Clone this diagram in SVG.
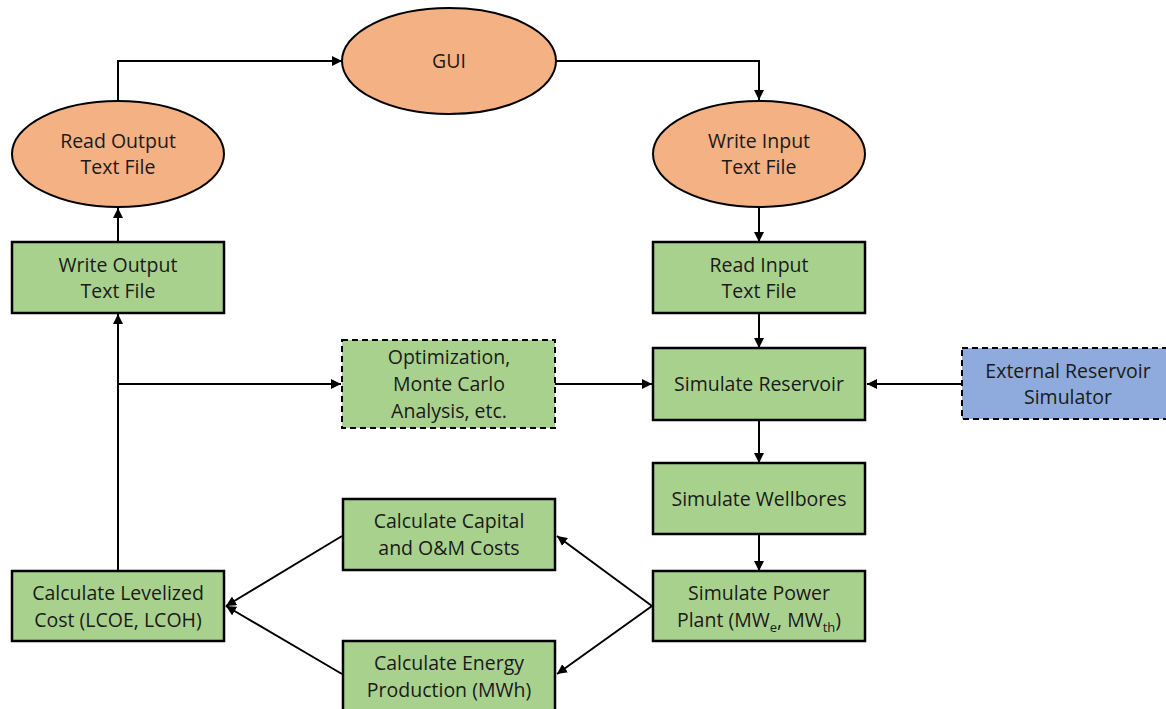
<svg xmlns="http://www.w3.org/2000/svg" width="1166" height="709" viewBox="0 0 1166 709">
<defs>
<marker id="arr" viewBox="0 0 10 10" refX="10" refY="5" markerWidth="10" markerHeight="10" markerUnits="userSpaceOnUse" orient="auto">
<path d="M0,0 L10,5 L0,10 Z" fill="#000"/>
</marker>
<style>
.oval{fill:#F4B183;stroke:#000;stroke-width:2}
.box{fill:#A9D18E;stroke:#000;stroke-width:2.5}
.dash{fill:#A9D18E;stroke:#000;stroke-width:2;stroke-dasharray:6,4}
.ext{fill:#8FAADC;stroke:#000;stroke-width:2;stroke-dasharray:6,4}
.t{font-family:"Open Sans","Liberation Sans",sans-serif;font-size:19.5px;fill:#1a1a1a;text-anchor:middle}
.c{fill:none;stroke:#000;stroke-width:2;marker-end:url(#arr)}
</style>
</defs>
<rect width="1166" height="709" fill="#fff"/>
<g id="connectors">
<path class="c" d="M118,101 V61 H342"/>
<path class="c" d="M556,61 H759 V100"/>
<path class="c" d="M759,207 V242"/>
<path class="c" d="M759,313 V348"/>
<path class="c" d="M555,384 H652"/>
<path class="c" d="M962,384 H867"/>
<path class="c" d="M759,420 V463"/>
<path class="c" d="M759,534 V571"/>
<path class="c" d="M652,606 L557,536"/>
<path class="c" d="M652,606 L557,674"/>
<path class="c" d="M342,536 L226,606"/>
<path class="c" d="M342,674 L226,606"/>
<path class="c" d="M118,571 V314"/>
<path class="c" d="M118,384 H341"/>
<path class="c" d="M118,242 V208"/>
</g>
<g id="gui"><ellipse class="oval" cx="449" cy="61" rx="107" ry="53"/><text class="t" x="449" y="68">GUI</text></g>
<g id="read-output"><ellipse class="oval" cx="118" cy="154" rx="106" ry="53"/><text class="t" x="118" y="148">Read Output</text><text class="t" x="118" y="174">Text File</text></g>
<g id="write-input"><ellipse class="oval" cx="759" cy="154" rx="106" ry="53"/><text class="t" x="759" y="148">Write Input</text><text class="t" x="759" y="174">Text File</text></g>
<g id="write-output"><rect class="box" x="12" y="242" width="212" height="71"/><text class="t" x="118" y="272">Write Output</text><text class="t" x="118" y="298">Text File</text></g>
<g id="read-input"><rect class="box" x="653" y="242" width="212" height="71"/><text class="t" x="759" y="272">Read Input</text><text class="t" x="759" y="298">Text File</text></g>
<g id="optimization"><rect class="dash" x="342" y="340" width="213" height="88"/><text class="t" x="449" y="364">Optimization,</text><text class="t" x="449" y="391">Monte Carlo</text><text class="t" x="449" y="418">Analysis, etc.</text></g>
<g id="sim-reservoir"><rect class="box" x="653" y="348" width="212" height="72"/><text class="t" x="759" y="391">Simulate Reservoir</text></g>
<g id="external"><rect class="ext" x="962" y="348" width="213" height="71"/><text class="t" x="1068" y="378">External Reservoir</text><text class="t" x="1068" y="404">Simulator</text></g>
<g id="sim-wellbores"><rect class="box" x="653" y="463" width="212" height="71"/><text class="t" x="759" y="506">Simulate Wellbores</text></g>
<g id="sim-power"><rect class="box" x="653" y="571" width="212" height="70"/><text class="t" x="759" y="600">Simulate Power</text><text class="t" x="759" y="627">Plant (MW<tspan font-size="13" dy="5">e</tspan><tspan dy="-5">, MW</tspan><tspan font-size="13" dy="5">th</tspan><tspan dy="-5">)</tspan></text></g>
<g id="capital"><rect class="box" x="343" y="499" width="212" height="71"/><text class="t" x="449" y="528">Calculate Capital</text><text class="t" x="449" y="555">and O&amp;M Costs</text></g>
<g id="energy"><rect class="box" x="343" y="641" width="212" height="71"/><text class="t" x="449" y="670">Calculate Energy</text><text class="t" x="449" y="697">Production (MWh)</text></g>
<g id="levelized"><rect class="box" x="12" y="571" width="212" height="70"/><text class="t" x="118" y="600">Calculate Levelized</text><text class="t" x="118" y="627">Cost (LCOE, LCOH)</text></g>
</svg>
